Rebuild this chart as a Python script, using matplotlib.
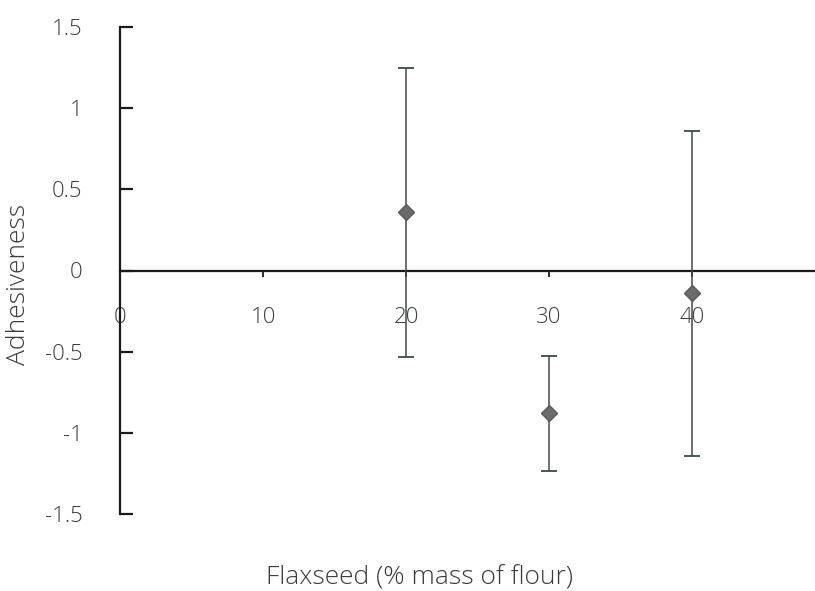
import matplotlib
matplotlib.use("Agg")
import matplotlib.pyplot as plt

# Adhesiveness vs flaxseed level (mean ± error)
flaxseed = [20, 30, 40]
adhesiveness = [0.36, -0.88, -0.14]
error = [0.89, 0.355, 1.0]

x_ticks = [0, 10, 20, 30, 40]
y_ticks = [-1.5, -1, -0.5, 0, 0.5, 1, 1.5]
y_tick_labels = ["-1.5", "-1", "-0.5", "0", "0.5", "1", "1.5"]

plt.rcParams["font.family"] = ["Open Sans", "DejaVu Sans"]
plt.rcParams["font.weight"] = "light"
text_color = "#3a3a3a"

fig = plt.figure(figsize=(8.15, 5.91), dpi=100)
ax = fig.add_axes([120 / 815, 1 - 514 / 591, 1 - 120 / 815, (514 - 27) / 591])

ax.errorbar(flaxseed, adhesiveness, yerr=error, fmt="D", color="#6b6b6b",
            ecolor="#3f4a48", elinewidth=1.1, capsize=6, capthick=1.3,
            markersize=8.5, markeredgecolor="#5a5a5a", zorder=3)

ax.set_xlim(0, 48.6)
ax.set_ylim(-1.5, 1.5)

ax.spines["top"].set_visible(False)
ax.spines["right"].set_visible(False)
ax.spines["bottom"].set_position(("data", 0))
ax.spines["bottom"].set_linewidth(1.6)
ax.spines["left"].set_linewidth(1.6)
ax.spines["bottom"].set_color("#1a1a1a")
ax.spines["left"].set_color("#1a1a1a")

ax.set_yticks(y_ticks)
ax.set_yticklabels(y_tick_labels)
ax.tick_params(axis="y", direction="in", length=9, width=1.6, pad=27,
               labelsize=16, labelcolor=text_color, color="#1a1a1a")

ax.set_xticks(x_ticks)
ax.set_xticklabels([str(v) for v in x_ticks])
ax.tick_params(axis="x", direction="out", length=4, width=1.3, pad=22,
               labelsize=16, labelcolor=text_color, color="#1a1a1a")

fig.text(19 / 815, 1 - 284 / 591, "Adhesiveness", rotation=90, ha="center",
         va="center", fontsize=19, color=text_color)
fig.text(419 / 815, 1 - 578 / 591, "Flaxseed (% mass of flour)", ha="center",
         va="center", fontsize=19, color=text_color)

fig.savefig("out.png", dpi=100)
